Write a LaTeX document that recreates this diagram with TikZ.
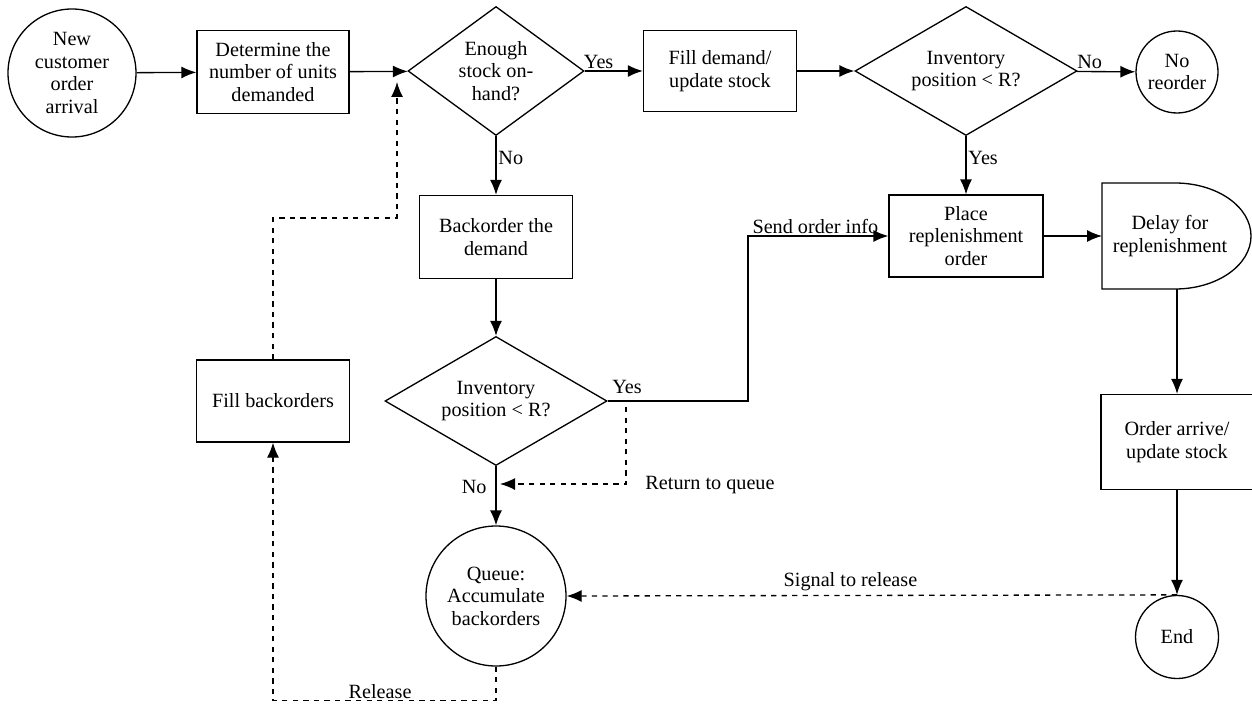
\documentclass[tikz,border=0pt]{standalone}
\usepackage{fontspec}
\setmainfont{Liberation Serif}
\newfontfamily\grundschrift{Liberation Serif}
\usepackage{tikz}
\usetikzlibrary{positioning,shapes.geometric,arrows.meta}

\begin{document}
\begin{tikzpicture}[
        every node/.style={font=\grundschrift\fontsize{11.5}{12.8}\selectfont, align=center},
        ereignis/.style={draw=black, circle, line width=0.75pt, inner sep=1pt},
        kasten/.style={draw=black, rectangle, line width=0.75pt,
                       minimum width=3.06cm, minimum height=1.64cm},
        entscheidung/.style={draw=black, diamond, line width=0.75pt, inner sep=0pt,
                       aspect=1.72, minimum width=4.44cm, minimum height=2.58cm},
        pfeil/.style={draw=black, line width=0.75pt, -{Latex[length=3mm,width=2.4mm]}},
        gestrichelt/.style={pfeil, dashed},
        marke/.style={inner sep=1pt}
    ]
        \useasboundingbox (0,0) rectangle (25.04,-14.12);

        \node[ereignis, minimum size=2.56cm] (start) at (1.44,-1.46)
            {New\\customer\\order\\arrival};
        \node[kasten, minimum width=3.04cm, minimum height=1.66cm] (bestimmen) at (5.46,-1.44)
            {Determine the\\number of units\\demanded};
        \node[entscheidung, aspect=1.36, minimum width=3.52cm] (genug) at (9.92,-1.42)
            {Enough\\stock on-\\hand?};
        \node[kasten, minimum height=1.62cm] (erfuellen) at (14.4,-1.42)
            {Fill demand/\\update stock};
        \node[entscheidung] (posoben) at (19.32,-1.42)
            {Inventory\\position < R?};
        \node[ereignis, minimum size=1.64cm] (keine) at (23.54,-1.44)
            {No\\reorder};

        \node[kasten, minimum height=1.66cm] (rueckstand) at (9.92,-4.74)
            {Backorder the\\demand};
        \node[kasten, minimum width=3.08cm] (bestellen) at (19.32,-4.72)
            {Place\\replenishment\\order};
        \node[minimum width=2.92cm, minimum height=2.12cm, inner sep=0pt] (verzug) at (23.4,-4.72)
            {Delay for\\replenishment};
        \draw[line width=0.75pt] (22.04,-3.66) -- (23.5,-3.66)
            arc[start angle=90, end angle=-90, x radius=1.52cm, y radius=1.06cm]
            -- (22.04,-5.78) -- cycle;

        \node[entscheidung] (posunten) at (9.92,-8.02)
            {Inventory\\position < R?};
        \node[kasten] (auffuellen) at (5.46,-8.02) {Fill backorders};
        \node[kasten, minimum width=3.04cm, minimum height=1.9cm] (ankunft) at (23.54,-8.84)
            {Order arrive/\\update stock};

        \node[ereignis, minimum size=2.8cm] (schlange) at (9.92,-11.92)
            {Queue:\\Accumulate\\backorders};
        \node[ereignis, minimum size=1.66cm] (ende) at (23.54,-12.74) {End};

        % Hauptfluss
        \draw[pfeil] (start) -- (bestimmen);
        \draw[pfeil] (bestimmen) -- (genug);
        \draw[pfeil] (genug) -- (erfuellen)
            node[marke, pos=0.24, above] {Yes};
        \draw[pfeil] (erfuellen) -- (posoben);
        \draw[pfeil] (posoben) -- (keine)
            node[marke, pos=0.22, above] {No};
        \draw[pfeil] (posoben) -- (bestellen)
            node[marke, pos=0.38, right] {Yes};
        \draw[pfeil] (genug) -- (rueckstand)
            node[marke, pos=0.37, right] {No};
        \draw[pfeil] (rueckstand) -- (posunten);
        \draw[pfeil] (posunten.east) -- (14.96,-8.02) |- (bestellen.west)
            node[marke, pos=0.74, above] {Send order info};
        \node[marke] (ja) at (12.54,-7.74) {Yes};
        \draw[pfeil] (bestellen) -- (22.04,-4.72);
        \draw[pfeil] (ankunft.north |- 0,-5.78) -- (ankunft);
        \draw[pfeil] (ankunft) -- (ende);
        \draw[pfeil] (posunten) -- (schlange)
            node[marke, pos=0.35, left=4pt] {No};

        % Rueckmeldungen
        \coordinate (rueckab) at (12.52,-8.14);
        \coordinate (rueckan) at (10.0,-9.68);
        \draw[gestrichelt] (rueckab) |- (rueckan);
        \node[marke] (zurueck) at (14.2,-9.7) {Return to queue};
        \draw[gestrichelt] (ende.north) -- (schlange.east)
            node[marke, pos=0.535, above=1pt] {Signal to release};
        \draw[gestrichelt] (schlange.south) -- ++(0,-0.68) -| (auffuellen.south)
            node[marke, pos=0.26, above] {Release};
        \coordinate (knick) at (7.94,-4.36);
        \draw[gestrichelt] (auffuellen.north) |- (knick) -- (7.94,-1.64);
    \end{tikzpicture}
\end{document}
